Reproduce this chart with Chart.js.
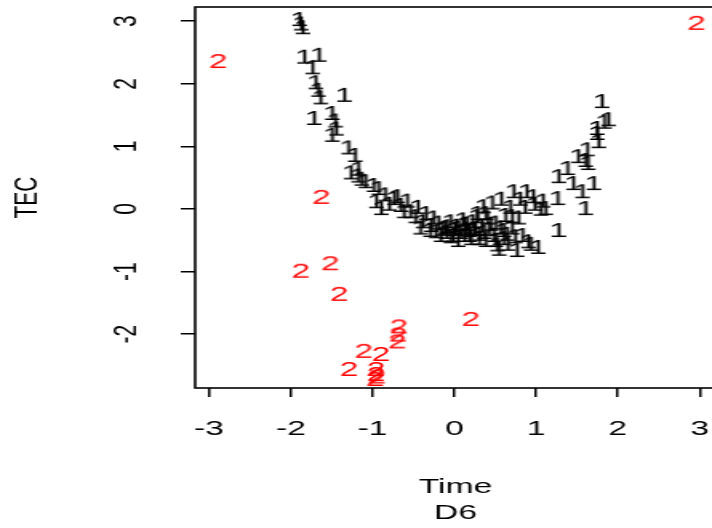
<!DOCTYPE html>
<html lang="en">
<head>
<meta charset="UTF-8">
<script src="https://cdn.jsdelivr.net/npm/chart.js"></script>
<title>TEC x Time - D6</title>
<style>
  html, body { margin: 0; padding: 0; background: #fff; overflow: hidden; }
  /* o grafico e desenhado estreito e esticado na horizontal */
  #wrap { width: 480px; height: 528px; transform: scaleX(1.6); transform-origin: 0 0; }
</style>
</head>
<body>
<div id="wrap"><canvas id="grafico" width="480" height="528"></canvas></div>

<script>
const xTicks = [-3, -2, -1, 0, 1, 2, 3];
const yTicks = [-2, -1, 0, 1, 2, 3];

// grupo 1 (pontos pretos)
const time1 = [
  -1.90, -1.88, -1.86, -1.84, -1.66, -1.74, -1.70, -1.67, -1.64, -1.35,
  -1.72, -1.50, -1.46, -1.50, -1.45, -1.30, -1.22, -1.27, -1.18, -1.18,
  -1.14, -1.09, -0.99, -0.93, -0.96, -0.90, -0.85, -0.80, -0.74, -0.70,
  -0.66, -0.62, -0.58, -0.54, -0.48, -0.45, -0.42, -0.39, -0.35, -0.29,
  -0.26, -0.23, -0.20, -0.17, -0.12, -0.09, -0.05, -0.02, 0.02, 0.04,
  0.07, 0.10, 0.12, 0.15, 0.18, 0.20, 0.22, 0.25, 0.28, 0.30,
  0.33, 0.35, 0.38, 0.40, 0.42, 0.46, 0.48, 0.50, 0.52, 0.54,
  0.57, 0.60, 0.62, 0.65, 0.68, 0.70, 0.72, 0.74, 0.76, 0.78,
  0.80, 0.83, 0.86, 0.88, 0.90, 0.93, 0.96, 0.98, 1.02, 1.05,
  1.08, 1.11, 1.27, 1.26, 1.27, 1.38, 1.45, 1.51, 1.56, 1.60,
  1.62, 1.63, 1.70, 1.74, 1.74, 1.76, 1.80, 1.83, 1.88, 1.60,
  -0.30, -0.15, -0.05, 0.05, 0.12, 0.18, 0.24, 0.30, 0.36, 0.44,
  0.50, 0.56, 0.64, 0.70, 0.38, 0.27, 0.14, 0.00, -0.10, 0.60
];
const tec1 = [
  3.05, 2.98, 2.92, 2.45, 2.48, 2.28, 2.04, 1.92, 1.80, 1.84,
  1.47, 1.55, 1.43, 1.20, 1.30, 1.00, 0.88, 0.60, 0.66, 0.55,
  0.50, 0.46, 0.40, 0.35, 0.14, 0.03, 0.25, 0.10, 0.19, 0.22,
  0.08, -0.02, 0.15, -0.02, -0.10, 0.05, -0.28, -0.18, -0.05, -0.24,
  -0.12, -0.34, -0.20, -0.40, -0.28, -0.26, -0.42, -0.40, -0.25, -0.48,
  -0.35, -0.15, -0.40, -0.22, -0.32, -0.45, -0.18, -0.30, -0.05, -0.38,
  -0.25, 0.06, -0.48, -0.12, -0.30, 0.12, -0.40, -0.20, -0.55, -0.62,
  0.18, -0.32, -0.08, -0.54, 0.05, -0.28, 0.30, -0.42, -0.64, -0.12,
  0.18, -0.40, 0.05, 0.30, -0.50, -0.54, 0.22, 0.10, -0.59, 0.02,
  0.15, 0.03, -0.32, 0.19, 0.54, 0.67, 0.43, 0.86, 0.30, 0.80,
  0.97, 0.75, 0.43, 1.31, 1.23, 1.10, 1.74, 1.41, 1.45, 0.03,
  -0.32, -0.30, -0.18, -0.28, -0.22, -0.40, -0.30, -0.45, -0.35, -0.22,
  -0.48, -0.28, -0.38, -0.10, -0.05, -0.10, -0.30, -0.30, -0.35, -0.45
];

// grupo 2 (pontos vermelhos)
const time2 = [-2.89, 2.96, -1.63, -1.88, -1.52, -1.41, 0.20, -0.68, -0.69, -0.70,
               -1.11, -0.90, -1.29, -0.96, -0.96, -0.97, -0.95];
const tec2 = [2.38, 2.99, 0.21, -0.97, -0.85, -1.34, -1.74, -1.86, -1.99, -2.10,
              -2.25, -2.30, -2.54, -2.54, -2.62, -2.70, -2.66];

const FONT = '"Liberation Sans", Arial, Helvetica, sans-serif';

// cada ponto e desenhado como o numero do grupo
function glyph(ch, color) {
  const c = document.createElement('canvas');
  c.width = 20;
  c.height = 26;
  const g = c.getContext('2d');
  g.font = '21px ' + FONT;
  g.fillStyle = color;
  g.textAlign = 'center';
  g.textBaseline = 'alphabetic';
  g.fillText(ch, 10, 13 + 7.5);
  return c;
}

// moldura do grafico
const moldura = {
  id: 'moldura',
  beforeDatasetsDraw(chart) {
    const { ctx, chartArea: a } = chart;
    ctx.save();
    ctx.strokeStyle = '#000';
    ctx.lineWidth = 1.6;
    ctx.strokeRect(a.left, a.top, a.right - a.left, a.bottom - a.top);
    ctx.restore();
  }
};

Chart.defaults.font.family = FONT;
Chart.defaults.color = '#000';

const ctx = document.getElementById('grafico').getContext('2d');
new Chart(ctx, {
  type: 'scatter',
  data: {
    datasets: [
      {
        label: '1',
        data: time1.map((t, i) => ({ x: t, y: tec1[i] })),
        pointStyle: glyph('1', '#000'),
        pointRadius: 5
      },
      {
        label: '2',
        data: time2.map((t, i) => ({ x: t, y: tec2[i] })),
        pointStyle: glyph('2', '#ff0000'),
        pointRadius: 5
      }
    ]
  },
  options: {
    responsive: false,
    animation: false,
    layout: { padding: { left: 0, top: 7, right: 32.5, bottom: 0 } },
    plugins: { legend: { display: false }, tooltip: { enabled: false } },
    scales: {
      x: {
        type: 'linear',
        position: 'bottom',
        min: -3.17,
        max: 3.20,
        afterBuildTicks: s => { s.ticks = xTicks.map(v => ({ value: v })); },
        afterFit: s => { s.height = 140; s.paddingLeft = 0; s.paddingRight = 0; },
        border: { display: false },
        grid: { drawOnChartArea: false, drawTicks: true, tickLength: 9, color: '#000', lineWidth: 1.5 },
        ticks: { color: '#000', font: { size: 21 }, padding: 20, maxRotation: 0, autoSkip: false },
        title: {
          display: true,
          text: ['Time', 'D6'],
          color: '#000',
          font: { size: 21, lineHeight: 1.24 },
          padding: { top: 0, bottom: 2 }
        }
      },
      y: {
        type: 'linear',
        min: -2.86,
        max: 3.227,
        afterBuildTicks: s => { s.ticks = yTicks.map(v => ({ value: v })); },
        afterFit: s => { s.width = 122; s.paddingTop = 0; s.paddingBottom = 0; },
        border: { display: false },
        grid: { drawOnChartArea: false, drawTicks: true, tickLength: 9, color: '#000', lineWidth: 1.5 },
        ticks: { color: '#000', font: { size: 21 }, padding: 24.5, minRotation: 90, maxRotation: 90, crossAlign: 'center', autoSkip: false },
        title: {
          display: true,
          text: 'TEC',
          color: '#000',
          font: { size: 21 },
          padding: { top: 5, bottom: 0 }
        }
      }
    }
  },
  plugins: [moldura]
});
</script>
</body>
</html>
